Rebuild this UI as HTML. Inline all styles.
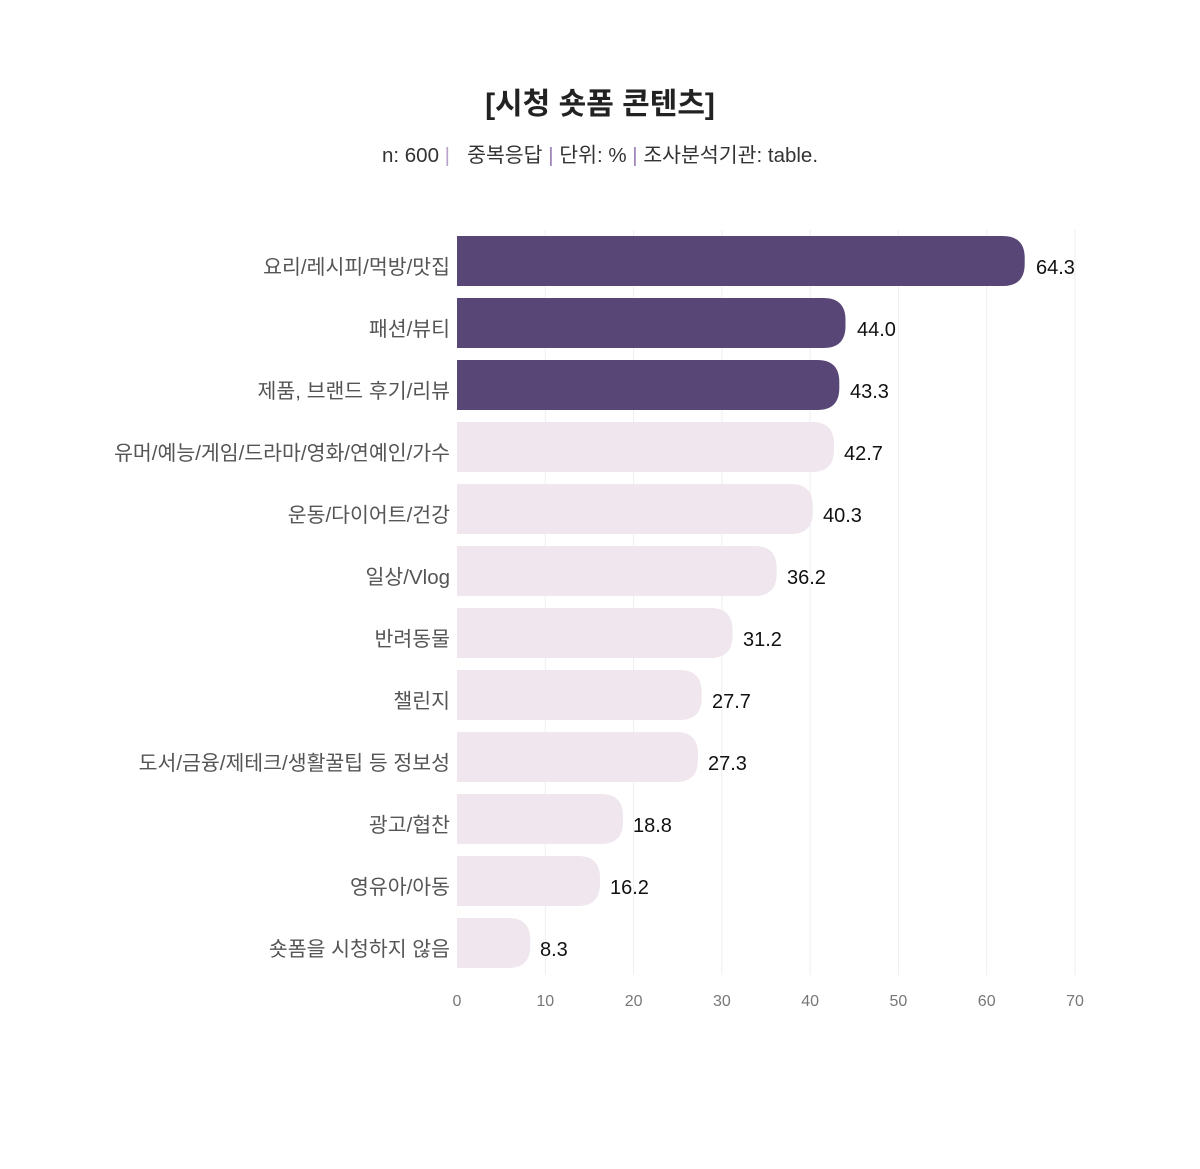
<!DOCTYPE html>
<html><head><meta charset="utf-8"><style>
html,body{margin:0;padding:0;background:#fff;}
svg text{font-family:"Liberation Sans","Noto Sans CJK KR",sans-serif;}
</style></head><body>
<svg width="1200" height="1164" xmlns="http://www.w3.org/2000/svg">
<text x="600" y="114" text-anchor="middle" font-size="30" font-weight="bold" fill="#222">[시청 숏폼 콘텐츠]</text>
<text x="600" y="162" text-anchor="middle" font-size="20.5" fill="#333" xml:space="preserve">n: 600 <tspan fill="#b9a3c9">|</tspan>   중복응답 <tspan fill="#9a7fb5">|</tspan> 단위: % <tspan fill="#9a7fb5">|</tspan> 조사분석기관: table.</text>
<g stroke="#eeeeee" stroke-width="1">
<line x1="545.3" y1="230" x2="545.3" y2="975"/><line x1="633.6" y1="230" x2="633.6" y2="975"/><line x1="721.9" y1="230" x2="721.9" y2="975"/><line x1="810.1" y1="230" x2="810.1" y2="975"/><line x1="898.4" y1="230" x2="898.4" y2="975"/><line x1="986.7" y1="230" x2="986.7" y2="975"/><line x1="1075" y1="230" x2="1075" y2="975"/>
</g>
<g font-size="16" fill="#777" text-anchor="middle">
<text x="457" y="1006">0</text><text x="545.3" y="1006">10</text><text x="633.6" y="1006">20</text><text x="721.9" y="1006">30</text><text x="810.1" y="1006">40</text><text x="898.4" y="1006">50</text><text x="986.7" y="1006">60</text><text x="1075" y="1006">70</text>
</g>
<g>
<path d="M457 236H1002.7Q1024.7 236 1024.7 258V264Q1024.7 286 1002.7 286H457Z" fill="#584677"/>
<path d="M457 298H823.5Q845.5 298 845.5 320V326Q845.5 348 823.5 348H457Z" fill="#584677"/>
<path d="M457 360H817.3Q839.3 360 839.3 382V388Q839.3 410 817.3 410H457Z" fill="#584677"/>
<path d="M457 422H812Q834 422 834 444V450Q834 472 812 472H457Z" fill="#f0e6ee"/>
<path d="M457 484H790.8Q812.8 484 812.8 506V512Q812.8 534 790.8 534H457Z" fill="#f0e6ee"/>
<path d="M457 546H754.6Q776.6 546 776.6 568V574Q776.6 596 754.6 596H457Z" fill="#f0e6ee"/>
<path d="M457 608H710.5Q732.5 608 732.5 630V636Q732.5 658 710.5 658H457Z" fill="#f0e6ee"/>
<path d="M457 670H679.6Q701.6 670 701.6 692V698Q701.6 720 679.6 720H457Z" fill="#f0e6ee"/>
<path d="M457 732H676Q698 732 698 754V760Q698 782 676 782H457Z" fill="#f0e6ee"/>
<path d="M457 794H601Q623 794 623 816V822Q623 844 601 844H457Z" fill="#f0e6ee"/>
<path d="M457 856H578Q600 856 600 878V884Q600 906 578 906H457Z" fill="#f0e6ee"/>
<path d="M457 918H508.3Q530.3 918 530.3 940V946Q530.3 968 508.3 968H457Z" fill="#f0e6ee"/>
</g>
<g font-size="20.5" fill="#555" text-anchor="end">
<text x="450" y="274">요리/레시피/먹방/맛집</text>
<text x="450" y="336">패션/뷰티</text>
<text x="450" y="398">제품, 브랜드 후기/리뷰</text>
<text x="450" y="460">유머/예능/게임/드라마/영화/연예인/가수</text>
<text x="450" y="522">운동/다이어트/건강</text>
<text x="450" y="584">일상/Vlog</text>
<text x="450" y="646">반려동물</text>
<text x="450" y="708">챌린지</text>
<text x="450" y="770">도서/금융/제테크/생활꿀팁 등 정보성</text>
<text x="450" y="832">광고/협찬</text>
<text x="450" y="894">영유아/아동</text>
<text x="450" y="956">숏폼을 시청하지 않음</text>
</g>
<g font-size="20" fill="#111">
<text x="1036" y="274">64.3</text>
<text x="857" y="336">44.0</text>
<text x="850" y="398">43.3</text>
<text x="844" y="460">42.7</text>
<text x="823" y="522">40.3</text>
<text x="787" y="584">36.2</text>
<text x="743" y="646">31.2</text>
<text x="712" y="708">27.7</text>
<text x="708" y="770">27.3</text>
<text x="633" y="832">18.8</text>
<text x="610" y="894">16.2</text>
<text x="540" y="956">8.3</text>
</g>
</svg>
</body></html>
